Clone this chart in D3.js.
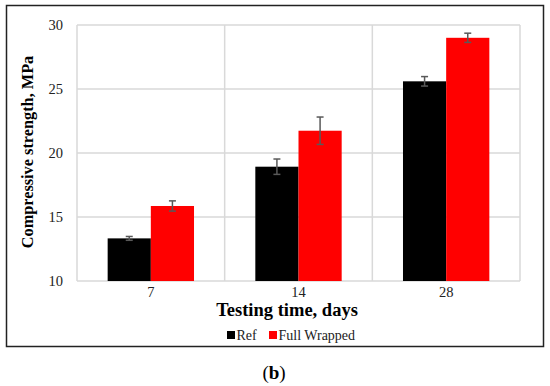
<!DOCTYPE html>
<html>
<head>
<meta charset="utf-8">
<script src="https://cdn.jsdelivr.net/npm/d3@7"></script>
<style>
  body { margin: 0; background: #fff; }
  svg { display: block; font-family: "Liberation Serif", "Times New Roman", serif; }
</style>
</head>
<body>
<div id="chart"></div>
<script>
// Data
const categories = ['7', '14', '28'];
const seriesNames = ['Ref', 'Full Wrapped'];
const seriesColors = ['#000000', '#ff0000'];
const refValues = [13.33, 18.93, 25.6];
const refErrors = [0.15, 0.6, 0.37];
const fullValues = [15.86, 21.74, 29.0];
const fullErrors = [0.4, 1.07, 0.36];
const yTicks = [10, 15, 20, 25, 30];

const dimensions = {
    width: 550,
    height: 386,
    left: 77,
    right: 520,
    top: 25,
    bottom: 281
}

const svg = d3.select('#chart')
    .append('svg')
    .attr('width', dimensions.width)
    .attr('height', dimensions.height);

// outer frame
svg.append('rect')
    .attr('x', 6.5).attr('y', 5.5)
    .attr('width', 537).attr('height', 341)
    .attr('fill', 'none')
    .attr('stroke', '#222')
    .attr('stroke-width', 1.5);

// Scales
const x = d3.scaleBand()
    .domain(categories)
    .range([dimensions.left, dimensions.right]);

const x1 = d3.scaleBand()
    .domain(seriesNames)
    .range([0, x.bandwidth()])
    .paddingInner(0)
    .paddingOuter(0.71);

const y = d3.scaleLinear()
    .domain([10, 30])
    .range([dimensions.bottom, dimensions.top]);

// Grid
const grid = svg.append('g').attr('stroke', '#d9d9d9').attr('stroke-width', 1.5);
grid.selectAll('line.h')
    .data(yTicks)
    .join('line')
    .attr('class', 'h')
    .attr('x1', dimensions.left).attr('x2', dimensions.right)
    .attr('y1', d => y(d)).attr('y2', d => y(d));

const vlines = categories.map(c => x(c)).concat([dimensions.right]);
grid.selectAll('line.v')
    .data(vlines)
    .join('line')
    .attr('class', 'v')
    .attr('x1', d => d).attr('x2', d => d)
    .attr('y1', dimensions.top).attr('y2', dimensions.bottom);

// Bars
const rows = categories.map((c, i) => ({
    cat: c,
    vals: [
        { name: seriesNames[0], v: refValues[i], e: refErrors[i], color: seriesColors[0] },
        { name: seriesNames[1], v: fullValues[i], e: fullErrors[i], color: seriesColors[1] }
    ]
}));

const groups = svg.selectAll('g.cat')
    .data(rows)
    .join('g')
    .attr('class', 'cat')
    .attr('transform', d => `translate(${x(d.cat)},0)`);

groups.selectAll('rect')
    .data(d => d.vals)
    .join('rect')
    .attr('x', d => x1(d.name))
    .attr('width', x1.bandwidth())
    .attr('y', d => y(d.v))
    .attr('height', d => y(10) - y(d.v))
    .attr('fill', d => d.color);

// Error bars
const err = groups.selectAll('g.err')
    .data(d => d.vals)
    .join('g')
    .attr('class', 'err')
    .attr('stroke', '#595959')
    .attr('stroke-width', 1.5);

err.append('line')
    .attr('x1', d => x1(d.name) + x1.bandwidth() / 2)
    .attr('x2', d => x1(d.name) + x1.bandwidth() / 2)
    .attr('y1', d => y(d.v + d.e))
    .attr('y2', d => y(d.v - d.e));
err.append('line')
    .attr('x1', d => x1(d.name) + x1.bandwidth() / 2 - 3.5)
    .attr('x2', d => x1(d.name) + x1.bandwidth() / 2 + 3.5)
    .attr('y1', d => y(d.v + d.e))
    .attr('y2', d => y(d.v + d.e));
err.append('line')
    .attr('x1', d => x1(d.name) + x1.bandwidth() / 2 - 3.5)
    .attr('x2', d => x1(d.name) + x1.bandwidth() / 2 + 3.5)
    .attr('y1', d => y(d.v - d.e))
    .attr('y2', d => y(d.v - d.e));

// Axes labels
svg.append('g')
    .selectAll('text')
    .data(yTicks)
    .join('text')
    .attr('x', 63)
    .attr('y', d => y(d))
    .attr('dy', '0.35em')
    .attr('text-anchor', 'end')
    .attr('font-size', 14.5)
    .attr('fill', '#222')
    .text(d => d);

svg.append('g')
    .selectAll('text')
    .data(categories)
    .join('text')
    .attr('x', d => x(d) + x.bandwidth() / 2)
    .attr('y', 292)
    .attr('dy', '0.35em')
    .attr('text-anchor', 'middle')
    .attr('font-size', 14.5)
    .attr('fill', '#222')
    .text(d => d);

svg.append('text')
    .attr('x', 287)
    .attr('y', 310)
    .attr('dy', '0.35em')
    .attr('text-anchor', 'middle')
    .attr('font-size', 18.5)
    .attr('font-weight', 'bold')
    .text('Testing time, days');

svg.append('text')
    .attr('transform', `translate(27,152) rotate(-90)`)
    .attr('dy', '0.35em')
    .attr('text-anchor', 'middle')
    .attr('font-size', 16.3)
    .attr('font-weight', 'bold')
    .text('Compressive strength, MPa');

// Legend
const legendX = [227, 269];
const legend = svg.append('g')
    .selectAll('g')
    .data(seriesNames)
    .join('g')
    .attr('transform', (d, i) => `translate(${legendX[i]},335)`);

legend.append('rect')
    .attr('x', 0).attr('y', -4)
    .attr('width', 8).attr('height', 8)
    .attr('fill', (d, i) => seriesColors[i]);

legend.append('text')
    .attr('x', 9.5)
    .attr('dy', '0.35em')
    .attr('font-size', 14)
    .attr('fill', '#222')
    .text(d => d);

// Caption
const cap = svg.append('text')
    .attr('x', 274)
    .attr('y', 372)
    .attr('dy', '0.35em')
    .attr('text-anchor', 'middle')
    .attr('font-size', 19);
cap.append('tspan').text('(');
cap.append('tspan').attr('font-weight', 'bold').text('b');
cap.append('tspan').text(')');
</script>
</body>
</html>
